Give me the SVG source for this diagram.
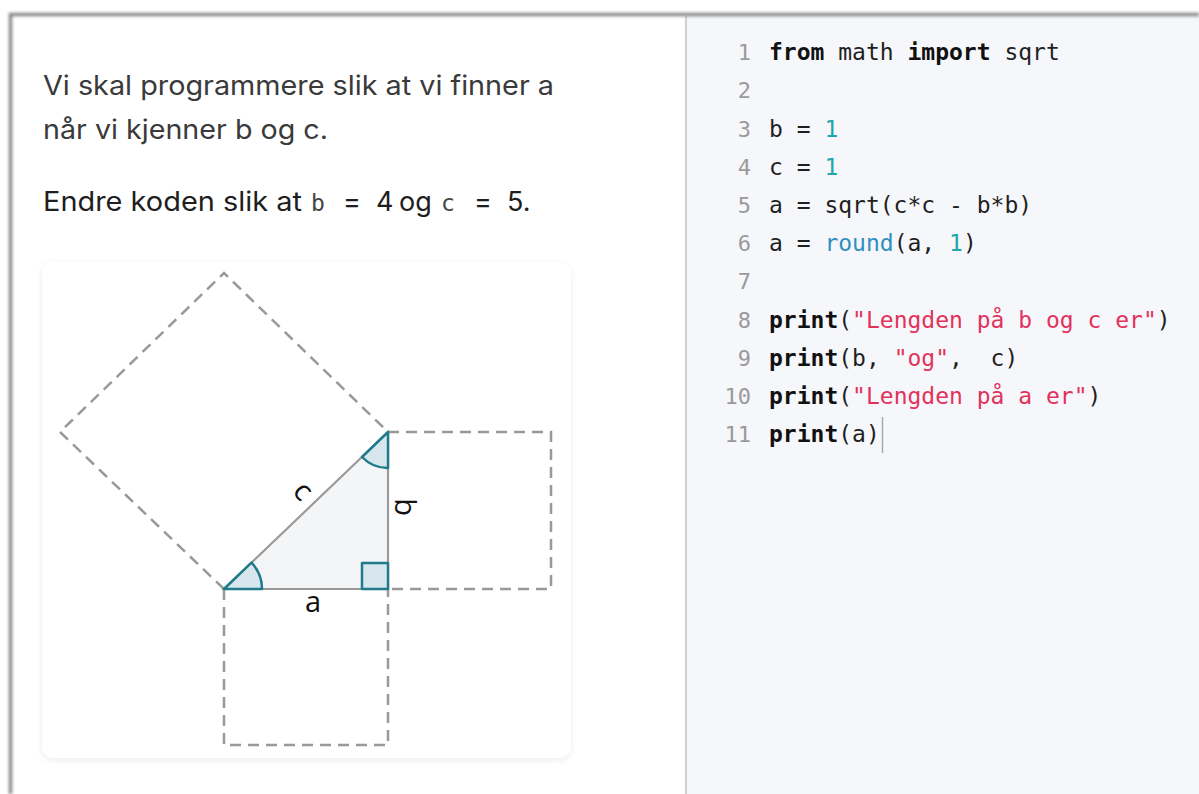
<svg xmlns="http://www.w3.org/2000/svg" width="1199" height="794" viewBox="0 0 1199 794">
  <defs>
    <filter id="frameShadow" x="-5%" y="-5%" width="110%" height="110%">
      <feGaussianBlur stdDeviation="1.5"/>
    </filter>
    <filter id="cardShadow" x="-10%" y="-10%" width="120%" height="120%">
      <feDropShadow dx="0" dy="2" stdDeviation="3" flood-color="#000" flood-opacity="0.08"/>
    </filter>
    <style>
      .prose { font-family: Inter, "Liberation Sans", sans-serif; font-size: 27px; fill: #3a3a3a; }
      .prose2 { font-family: Inter, "Liberation Sans", sans-serif; font-size: 27px; fill: #1e1e1e; }
      .icode { font-family: "DejaVu Sans Mono", "Liberation Mono", monospace; font-size: 23px; fill: #444; }
      .code { font-family: "DejaVu Sans Mono", "Liberation Mono", monospace; font-size: 23px; fill: #1f1f1f; white-space: pre; }
      .ln { font-family: "DejaVu Sans Mono", "Liberation Mono", monospace; font-size: 22px; fill: #9a9a9a; text-anchor: end; }
      .kw { font-weight: bold; fill: #111; }
      .num { fill: #1fa5ad; }
      .str { fill: #e2325c; }
      .fn { fill: #2f8fc0; }
      .dash { fill: none; stroke: #999; stroke-width: 2.5; stroke-dasharray: 11 7; }
      .tri { fill: #f3f5f7; stroke: #9a9a9a; stroke-width: 2.2; }
      .ang { fill: #d8e7ed; stroke: #1f7a8c; stroke-width: 2.5; stroke-linejoin: round; }
      .lbl { font-family: "Open Sans", "Noto Sans", sans-serif; font-size: 29px; fill: #111; }
    </style>
  </defs>

  <rect width="1199" height="794" fill="#ffffff"/>

  <!-- frame -->
  <g id="frame">
    <rect x="13" y="16" width="673" height="778" fill="#ffffff"/>
    <rect x="686" y="16" width="513" height="778" fill="#f6f7fa"/>
    <line x1="686" y1="16" x2="686" y2="794" stroke="#cfd1d6" stroke-width="2"/>
    <path d="M10.5 794 V14.5 H1199" fill="none" stroke="#888" stroke-width="3.5" filter="url(#frameShadow)"/>
  </g>

  <!-- prose -->
  <g id="text-left">
    <text class="prose" x="43" y="95" textLength="511" lengthAdjust="spacingAndGlyphs">Vi skal programmere slik at vi finner a</text>
    <text class="prose" x="43" y="139" textLength="285" lengthAdjust="spacingAndGlyphs">når vi kjenner b og c.</text>
    <text class="prose2" x="43" y="211" textLength="259" lengthAdjust="spacingAndGlyphs">Endre koden slik at</text>
    <text class="icode" x="311" y="211">b</text>
    <text class="prose2" x="343" y="211">=</text>
    <text class="prose2" x="376" y="211">4</text>
    <text class="prose2" x="399" y="211">og</text>
    <text class="icode" x="441" y="211">c</text>
    <text class="prose2" x="474" y="211">=</text>
    <text class="prose2" x="507" y="211">5.</text>
  </g>

  <!-- card -->
  <g id="card">
    <rect x="42" y="262" width="529" height="496" rx="12" fill="#ffffff" filter="url(#cardShadow)"/>
  </g>

  <!-- squares -->
  <g id="squares">
    <path class="dash" d="M224 589 L60 432 L224 273 L388 432"/>
    <path class="dash" d="M388 432 H551 V589 H388"/>
    <path class="dash" d="M224 589 V745 H388 V589"/>
  </g>

  <!-- triangle -->
  <g id="triangle">
    <path class="tri" d="M224 589 L388 589 L388 432 Z"/>
    <path class="ang" d="M224 589 L262 589 A38 38 0 0 0 251.5 562.7 Z"/>
    <path class="ang" d="M388 432 L388 468 A36 36 0 0 1 362 457 Z"/>
    <rect class="ang" x="362" y="563" width="26" height="26"/>
  </g>

  <!-- labels -->
  <g id="labels">
    <text class="lbl" x="313" y="612" text-anchor="middle">a</text>
    <text class="lbl" transform="translate(395 507) rotate(90)" text-anchor="middle">b</text>
    <text class="lbl" transform="translate(302 492) rotate(46)" text-anchor="middle" dy="8">c</text>
  </g>

  <!-- code -->
  <g id="code">
    <text class="ln" x="751" y="60">1</text>
    <text class="ln" x="751" y="98">2</text>
    <text class="ln" x="751" y="137">3</text>
    <text class="ln" x="751" y="175">4</text>
    <text class="ln" x="751" y="213">5</text>
    <text class="ln" x="751" y="251">6</text>
    <text class="ln" x="751" y="289">7</text>
    <text class="ln" x="751" y="328">8</text>
    <text class="ln" x="751" y="366">9</text>
    <text class="ln" x="751" y="404">10</text>
    <text class="ln" x="751" y="442">11</text>

    <text class="code" x="769" y="60"><tspan class="kw">from</tspan> math <tspan class="kw">import</tspan> sqrt</text>
    <text class="code" x="769" y="137">b = <tspan class="num">1</tspan></text>
    <text class="code" x="769" y="175">c = <tspan class="num">1</tspan></text>
    <text class="code" x="769" y="213">a = sqrt(c*c - b*b)</text>
    <text class="code" x="769" y="251">a = <tspan class="fn">round</tspan>(a, <tspan class="num">1</tspan>)</text>
    <text class="code" x="769" y="328"><tspan class="kw">print</tspan>(<tspan class="str">"Lengden på b og c er"</tspan>)</text>
    <text class="code" x="769" y="366" xml:space="preserve"><tspan class="kw">print</tspan>(b, <tspan class="str">"og"</tspan>,  c)</text>
    <text class="code" x="769" y="404"><tspan class="kw">print</tspan>(<tspan class="str">"Lengden på a er"</tspan>)</text>
    <text class="code" x="769" y="442"><tspan class="kw">print</tspan>(a)</text>
    <line x1="882.5" y1="417" x2="882.5" y2="453" stroke="#aaa" stroke-width="1.5"/>
  </g>
</svg>
